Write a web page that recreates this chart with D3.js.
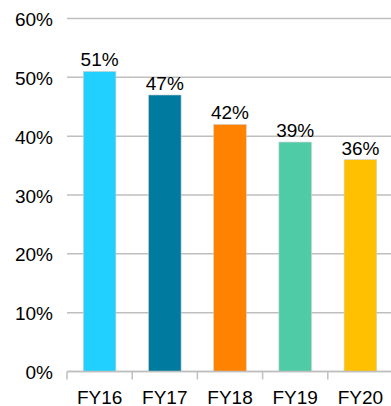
<!DOCTYPE html>
<html>
<head>
<meta charset="utf-8">
<script src="https://cdn.jsdelivr.net/npm/d3@7"></script>
<style>
  html, body { margin: 0; padding: 0; background: #fff; }
  svg { display: block; }
  text { font-family: "Liberation Sans", Arial, sans-serif; fill: #000; }
</style>
</head>
<body>
<svg id="chart" width="391" height="406"></svg>
<script>
// Share by fiscal year
const categories = ["FY16", "FY17", "FY18", "FY19", "FY20"];
const values = [51, 47, 42, 39, 36];
const barColors = ["#22D0FF", "#007B9F", "#FF8200", "#4FCBA6", "#FFC001"];
const yTicks = [0, 10, 20, 30, 40, 50, 60];

(function draw() {
  const svg = d3.select("#chart");
  const plotLeft = 67, plotRight = 393, plotTop = 18.5, plotBottom = 371.5;
  const fontSize = 19;

  const x = d3.scaleBand().domain(categories).range([plotLeft, plotRight]).paddingInner(0.5).paddingOuter(0.25);
  const y = d3.scaleLinear().domain([0, 60]).range([plotBottom, plotTop]);

  // Horizontal gridlines
  svg.append("g")
    .selectAll("line")
    .data(yTicks)
    .join("line")
    .attr("x1", plotLeft).attr("x2", 391)
    .attr("y1", d => y(d)).attr("y2", d => y(d))
    .attr("stroke", "#BFBFBF").attr("stroke-width", 1.5);

  // Y axis labels
  svg.append("g")
    .selectAll("text")
    .data(yTicks)
    .join("text")
    .attr("x", 53).attr("y", d => y(d) + 7.5)
    .attr("text-anchor", "end")
    .attr("font-size", fontSize)
    .text(d => d + "%");

  // Bars
  svg.append("g")
    .selectAll("rect")
    .data(values)
    .join("rect")
    .attr("x", (d, i) => x(categories[i]))
    .attr("y", d => y(d))
    .attr("width", x.bandwidth())
    .attr("height", d => y(0) - y(d))
    .attr("fill", (d, i) => barColors[i])
    .attr("stroke", "#D0D0D0").attr("stroke-width", 0.6);

  // Value labels
  svg.append("g")
    .selectAll("text")
    .data(values)
    .join("text")
    .attr("x", (d, i) => x(categories[i]) + x.bandwidth() / 2)
    .attr("y", d => y(d) - 5)
    .attr("text-anchor", "middle")
    .attr("font-size", fontSize)
    .text(d => d + "%");

  // Category axis: baseline and boundary ticks
  const step = x.step();
  const bounds = d3.range(categories.length + 1).map(i => plotLeft + i * step);
  svg.append("line")
    .attr("x1", plotLeft).attr("x2", 391)
    .attr("y1", y(0)).attr("y2", y(0))
    .attr("stroke", "#BFBFBF").attr("stroke-width", 1.5);
  svg.append("g")
    .selectAll("line")
    .data(bounds)
    .join("line")
    .attr("x1", d => d).attr("x2", d => d)
    .attr("y1", y(0)).attr("y2", y(0) + 8)
    .attr("stroke", "#BFBFBF").attr("stroke-width", 1.5);

  svg.append("g")
    .selectAll("text")
    .data(categories)
    .join("text")
    .attr("x", d => x(d) + x.bandwidth() / 2)
    .attr("y", 403.5)
    .attr("text-anchor", "middle")
    .attr("font-size", fontSize)
    .text(d => d);
})();
</script>
</body>
</html>
